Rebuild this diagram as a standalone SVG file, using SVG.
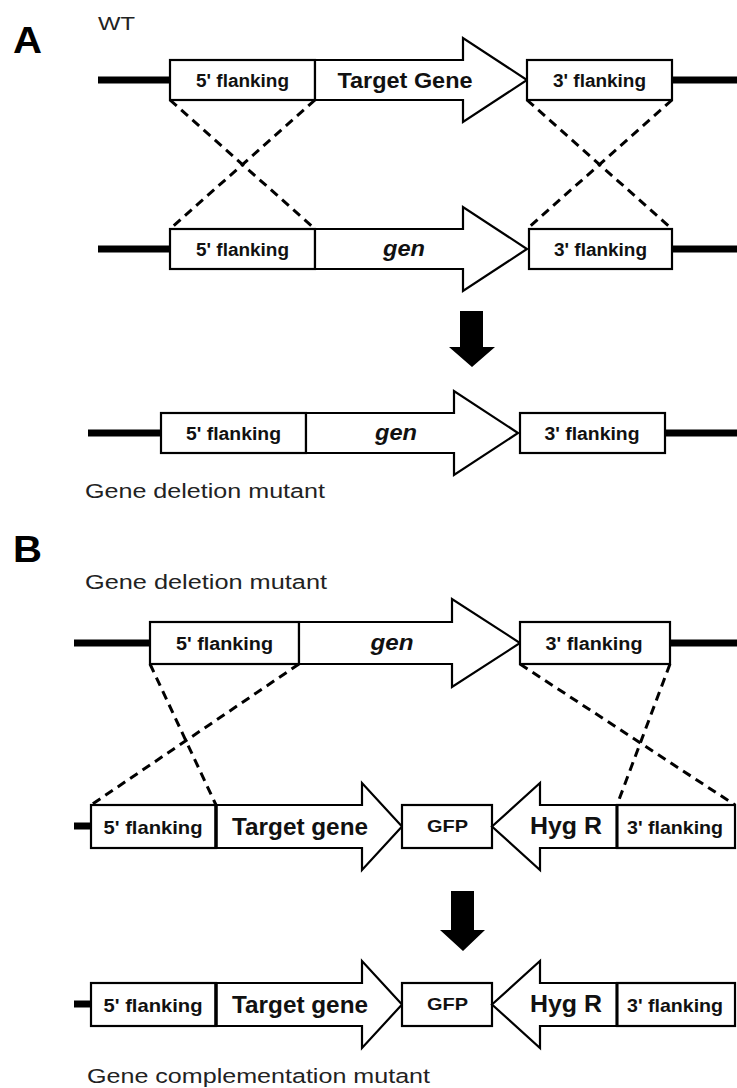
<svg xmlns="http://www.w3.org/2000/svg" width="737" height="1088" viewBox="0 0 737 1088">
<style>
  .bg { fill: #ffffff; }
  .box { fill: #ffffff; stroke: #000; stroke-width: 2.2; }
  .dna { stroke: #000; stroke-width: 7; fill: none; }
  .dash { stroke: #000; stroke-width: 3; stroke-dasharray: 9 6; fill: none; }
  .big { fill: #000; }
  .lbl { font-family: "Liberation Sans", Arial, sans-serif; font-weight: bold; fill: #111; text-anchor: middle; }
  .ital { font-style: italic; }
  .cap { font-family: "Liberation Sans", Arial, sans-serif; fill: #222; }
  .panel { font-family: "Liberation Sans", Arial, sans-serif; font-weight: bold; fill: #000; }
</style>
<rect class="bg" x="0" y="0" width="737" height="1088"/>

<!-- Panel labels and captions -->
<text class="panel" x="13" y="53" font-size="37" textLength="29" lengthAdjust="spacingAndGlyphs">A</text>
<text class="cap" x="98" y="30" font-size="19" textLength="37" lengthAdjust="spacingAndGlyphs">WT</text>
<text class="cap" x="85" y="498" font-size="20" textLength="240" lengthAdjust="spacingAndGlyphs">Gene deletion mutant</text>
<text class="panel" x="13" y="562" font-size="37" textLength="29" lengthAdjust="spacingAndGlyphs">B</text>
<text class="cap" x="85" y="589" font-size="20" textLength="242" lengthAdjust="spacingAndGlyphs">Gene deletion mutant</text>
<text class="cap" x="87" y="1083" font-size="20.5" textLength="343" lengthAdjust="spacingAndGlyphs">Gene complementation mutant</text>

<!-- Connectors: DNA lines, crossover dashes, process arrows -->
<g id="connectors">
  <line class="dna" x1="98" y1="80" x2="170" y2="80"/>
  <line class="dna" x1="672" y1="80" x2="737" y2="80"/>
  <line class="dna" x1="98" y1="249" x2="170" y2="249"/>
  <line class="dna" x1="672" y1="249" x2="737" y2="249"/>
  <line class="dna" x1="88" y1="433" x2="161" y2="433"/>
  <line class="dna" x1="665" y1="433" x2="737" y2="433"/>
  <line class="dna" x1="74" y1="643" x2="150" y2="643"/>
  <line class="dna" x1="670" y1="643" x2="737" y2="643"/>
  <line class="dna" x1="74" y1="826" x2="91" y2="826"/>
  <line class="dna" x1="74" y1="1004" x2="91" y2="1004"/>

  <line class="dash" x1="170" y1="100" x2="315" y2="229"/>
  <line class="dash" x1="315" y1="100" x2="170" y2="229"/>
  <line class="dash" x1="527" y1="100" x2="672" y2="229"/>
  <line class="dash" x1="672" y1="100" x2="527" y2="229"/>

  <line class="dash" x1="150" y1="664" x2="216" y2="805"/>
  <line class="dash" x1="299" y1="664" x2="91" y2="805"/>
  <line class="dash" x1="520" y1="664" x2="735" y2="805"/>
  <line class="dash" x1="670" y1="664" x2="617" y2="805"/>

  <polygon class="big" points="460,311 483,311 483,347 495,347 472,367 449,347 460,347"/>
  <polygon class="big" points="451,891 474,891 474,930 485,930 463,951 440,930 451,930"/>
</g>

<!-- Panel A, row 1 (WT) -->
<g id="a1-5flank">
  <rect class="box" x="170" y="60" width="145" height="40"/>
  <text class="lbl" x="242.5" y="87" font-size="18" textLength="93" lengthAdjust="spacingAndGlyphs">5' flanking</text>
</g>
<g id="a1-target">
  <polygon class="box" points="315,60 463,60 463,38 527,80 463,122 463,100 315,100"/>
  <text class="lbl" x="405" y="88" font-size="22" textLength="135" lengthAdjust="spacingAndGlyphs">Target Gene</text>
</g>
<g id="a1-3flank">
  <rect class="box" x="527" y="60" width="145" height="40"/>
  <text class="lbl" x="599.5" y="87" font-size="18" textLength="93" lengthAdjust="spacingAndGlyphs">3' flanking</text>
</g>

<!-- Panel A, row 2 (construct) -->
<g id="a2-5flank">
  <rect class="box" x="170" y="229" width="145" height="40"/>
  <text class="lbl" x="242.5" y="256" font-size="18" textLength="93" lengthAdjust="spacingAndGlyphs">5' flanking</text>
</g>
<g id="a2-gen">
  <polygon class="box" points="315,229 463,229 463,207 527,249 463,291 463,269 315,269"/>
  <text class="lbl ital" x="404" y="256" font-size="22" textLength="42" lengthAdjust="spacingAndGlyphs">gen</text>
</g>
<g id="a2-3flank">
  <rect class="box" x="529" y="229" width="143" height="40"/>
  <text class="lbl" x="600.5" y="256" font-size="18" textLength="93" lengthAdjust="spacingAndGlyphs">3' flanking</text>
</g>

<!-- Panel A, row 3 (deletion mutant) -->
<g id="a3-5flank">
  <rect class="box" x="161" y="413" width="145" height="40"/>
  <text class="lbl" x="233.5" y="440" font-size="18" textLength="95" lengthAdjust="spacingAndGlyphs">5' flanking</text>
</g>
<g id="a3-gen">
  <polygon class="box" points="306,413 454,413 454,391 518,433 454,475 454,453 306,453"/>
  <text class="lbl ital" x="396" y="440" font-size="22" textLength="42" lengthAdjust="spacingAndGlyphs">gen</text>
</g>
<g id="a3-3flank">
  <rect class="box" x="520" y="413" width="145" height="40"/>
  <text class="lbl" x="592" y="440" font-size="18" textLength="95" lengthAdjust="spacingAndGlyphs">3' flanking</text>
</g>

<!-- Panel B, row 1 (deletion mutant) -->
<g id="b1-5flank">
  <rect class="box" x="150" y="622" width="149" height="42"/>
  <text class="lbl" x="224.5" y="650" font-size="18" textLength="97" lengthAdjust="spacingAndGlyphs">5' flanking</text>
</g>
<g id="b1-gen">
  <polygon class="box" points="299,622 452,622 452,599 520,643 452,687 452,664 299,664"/>
  <text class="lbl ital" x="392" y="650" font-size="22" textLength="43" lengthAdjust="spacingAndGlyphs">gen</text>
</g>
<g id="b1-3flank">
  <rect class="box" x="520" y="622" width="150" height="42"/>
  <text class="lbl" x="594" y="650" font-size="18" textLength="97" lengthAdjust="spacingAndGlyphs">3' flanking</text>
</g>

<!-- Panel B, row 2 (complementation construct) -->
<g id="b2-5flank">
  <rect class="box" x="91" y="805" width="125" height="43"/>
  <text class="lbl" x="153" y="834" font-size="19" textLength="99" lengthAdjust="spacingAndGlyphs">5' flanking</text>
</g>
<g id="b2-target">
  <polygon class="box" points="216,805 362,805 362,783 402,826.5 362,870 362,848 216,848"/>
  <line x1="216" y1="805" x2="216" y2="848" stroke="#000" stroke-width="3.5"/>
  <text class="lbl" x="300" y="835" font-size="23" textLength="136" lengthAdjust="spacingAndGlyphs">Target gene</text>
</g>
<g id="b2-gfp">
  <rect class="box" x="402" y="805" width="90" height="43"/>
  <text class="lbl" x="447.5" y="832" font-size="17" textLength="41" lengthAdjust="spacingAndGlyphs">GFP</text>
</g>
<g id="b2-hygr">
  <polygon class="box" points="617,805 540,805 540,783 492,826.5 540,870 540,848 617,848"/>
  <text class="lbl" x="566" y="834" font-size="24" textLength="72" lengthAdjust="spacingAndGlyphs">Hyg R</text>
</g>
<g id="b2-3flank">
  <rect class="box" x="617" y="805" width="118" height="43"/>
  <line x1="617" y1="805" x2="617" y2="848" stroke="#000" stroke-width="3"/>
  <text class="lbl" x="675" y="834" font-size="19" textLength="96" lengthAdjust="spacingAndGlyphs">3' flanking</text>
</g>

<!-- Panel B, row 3 (complementation mutant) -->
<g id="b3-5flank">
  <rect class="box" x="91" y="983" width="125" height="43"/>
  <text class="lbl" x="153" y="1012" font-size="19" textLength="99" lengthAdjust="spacingAndGlyphs">5' flanking</text>
</g>
<g id="b3-target">
  <polygon class="box" points="216,983 362,983 362,961 402,1004.5 362,1048 362,1026 216,1026"/>
  <line x1="216" y1="983" x2="216" y2="1026" stroke="#000" stroke-width="3.5"/>
  <text class="lbl" x="300" y="1013" font-size="23" textLength="136" lengthAdjust="spacingAndGlyphs">Target gene</text>
</g>
<g id="b3-gfp">
  <rect class="box" x="402" y="983" width="90" height="43"/>
  <text class="lbl" x="447.5" y="1010" font-size="17" textLength="41" lengthAdjust="spacingAndGlyphs">GFP</text>
</g>
<g id="b3-hygr">
  <polygon class="box" points="617,983 540,983 540,961 492,1004.5 540,1048 540,1026 617,1026"/>
  <text class="lbl" x="566" y="1012" font-size="24" textLength="72" lengthAdjust="spacingAndGlyphs">Hyg R</text>
</g>
<g id="b3-3flank">
  <rect class="box" x="617" y="983" width="118" height="43"/>
  <line x1="617" y1="983" x2="617" y2="1026" stroke="#000" stroke-width="3"/>
  <text class="lbl" x="675" y="1012" font-size="19" textLength="96" lengthAdjust="spacingAndGlyphs">3' flanking</text>
</g>
</svg>
